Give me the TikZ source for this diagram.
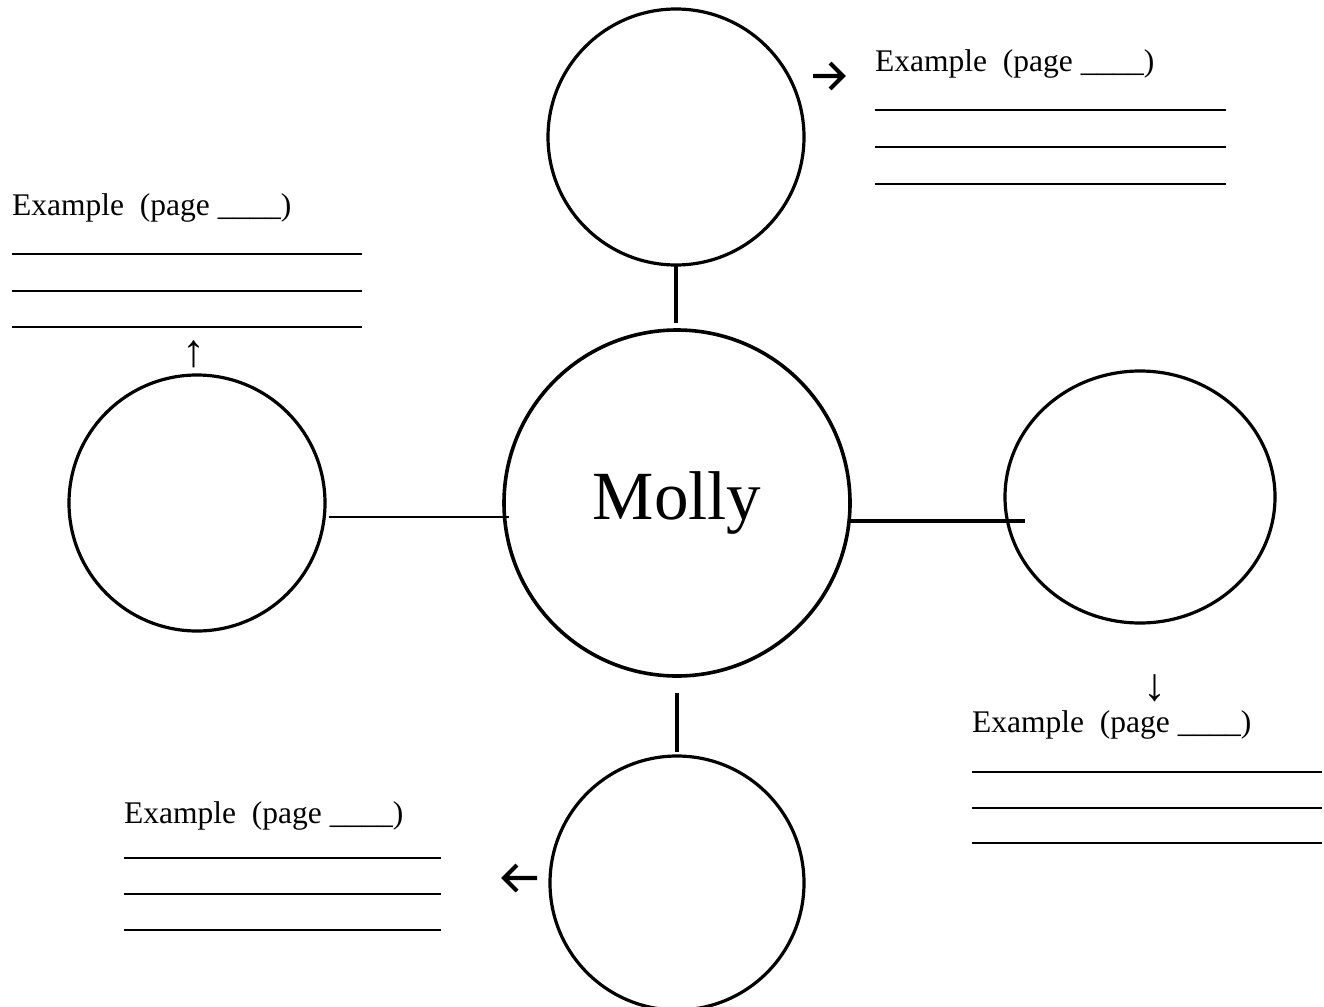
\documentclass[tikz,border=0pt]{standalone}
\usepackage{fontspec}
\setmainfont{Liberation Serif}
\usetikzlibrary{shapes.geometric}
\begin{document}
\begin{tikzpicture}[x=1pt,y=-1pt,
  bubble/.style={draw,line width=3.2pt,circle,inner sep=0pt},
  link/.style={line width=3.4pt},
  thinlink/.style={line width=2pt},
  blank/.style={line width=1.6pt},
  pointer/.style={line width=4.2pt,line join=miter},
  label/.style={anchor=base west,inner sep=0pt,font=\fontsize{31.5}{33}\selectfont},
  smallarrow/.style={inner sep=0pt,font=\fontsize{46}{46}\selectfont}]
\useasboundingbox (0,0) rectangle (1324,1006);
% circles
\node[bubble,minimum size=346pt,line width=3.6pt] (molly) at (677,503) {\fontsize{69}{69}\selectfont Molly};
\node[bubble,minimum size=256pt] (top) at (676,137) {};
\node[bubble,minimum size=256pt] (left) at (197,503) {};
\node[draw,line width=3.2pt,ellipse,minimum width=270pt,minimum height=252pt,inner sep=0pt] (right) at (1140,497) {};
\node[bubble,minimum size=254pt] (bottom) at (677,883) {};
% connectors
\coordinate (t1) at (676,265); \coordinate (t2) at (676,323);
\draw[link] (t1) -- (t2);
\coordinate (b1) at (677,693); \coordinate (b2) at (677,752);
\draw[link] (b1) -- (b2);
\coordinate (l1) at (329,517); \coordinate (l2) at (509,517);
\draw[thinlink] (l1) -- (l2);
\coordinate (r1) at (850,521); \coordinate (r2) at (1025,521);
\draw[link] (r1) -- (r2);
% pointer arrows
\coordinate (pT0) at (813,76); \coordinate (pT1) at (842,76);
\draw[pointer] (pT0) -- (pT1) (830,63) -- (843,76) -- (830,89);
\coordinate (pB0) at (537,878); \coordinate (pB1) at (505,878);
\draw[pointer] (pB0) -- (pB1) (517,865) -- (504,878) -- (517,891);
\node[smallarrow] (arL) at (194,354) {↑};
\node[smallarrow] (arR) at (1155,688) {↓};
% labels
\node[label] (exT) at (875,72) {Example\ \ (page \_\_\_\_)};
\foreach \y in {110,147,184} \draw[blank] (875,\y) -- (1226,\y);
\node[label] (exL) at (12,215) {Example\ \ (page \_\_\_\_)};
\foreach \y in {254,291,327} \draw[blank] (12,\y) -- (362,\y);
\node[label] (exR) at (972,732) {Example\ \ (page \_\_\_\_)};
\foreach \y in {772,808,843} \draw[blank] (972,\y) -- (1322,\y);
\node[label] (exB) at (124,823) {Example\ \ (page \_\_\_\_)};
\foreach \y in {858,894,930} \draw[blank] (124,\y) -- (441,\y);
\end{tikzpicture}
\end{document}
